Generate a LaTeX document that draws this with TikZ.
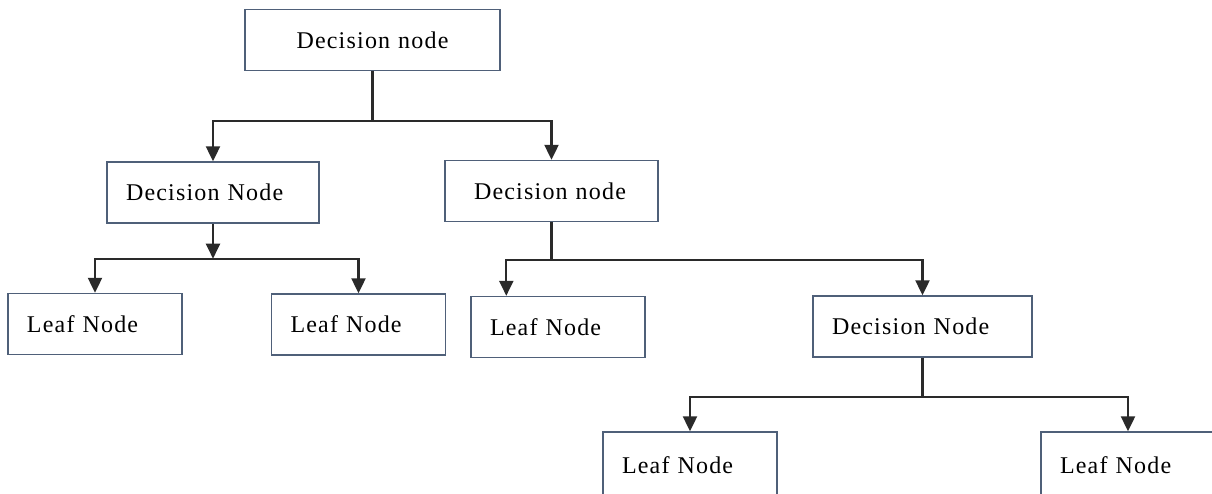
\documentclass[tikz,border=0pt]{standalone}
\usepackage{fontspec}
\setmainfont{Liberation Serif}[LetterSpace=5]
\usetikzlibrary{arrows.meta}
\definecolor{boxline}{HTML}{4F6079}
\definecolor{wire}{HTML}{2A2A2A}
\begin{document}
\begin{tikzpicture}[x=1pt,y=-1pt,
  box/.style={draw=boxline, line width=1.4pt, inner xsep=19pt, inner ysep=0pt,
    minimum height=61pt, text width=#1, align=left,
    font=\fontsize{24}{28}\selectfont},
  box/.default=136pt,
  link/.style={draw=wire, line width=2.2pt},
  arr/.style={link, -{Triangle[length=15pt,width=14pt]}}]
  \clip (0,0) rectangle (1212,494);
  \node[box=217pt, align=center] (root) at (372.5,40) {Decision node};
  \node[box=174pt] (dnleft) at (213,192.5) {Decision Node};
  \node[box=175pt] (dnright) at (551.5,191) {\hspace*{10pt}Decision node};
  \node[box] (leafa) at (95,324) {Leaf Node};
  \node[box] (leafb) at (358.5,324.5) {Leaf Node};
  \node[box] (leafc) at (558,327) {Leaf Node};
  \node[box=181pt] (dnlow) at (922.5,326.5) {Decision Node};
  \node[box, minimum height=66pt] (leafd) at (690,465) {Leaf Node};
  \node[box, minimum height=66pt] (leafe) at (1128,465) {Leaf Node};

  \draw[link] (root.south) -- ++(0,50) coordinate (jroot);
  \draw[arr] (jroot) -| (dnleft.north);
  \draw[arr] (jroot) -| (dnright.north);

  \draw[arr] (dnleft.south) -- ++(0,35) coordinate (jleft);
  \draw[arr] (jleft) -| (leafa.north);
  \draw[arr] (jleft) -| (leafb.north);

  \draw[link] (dnright.south) -- ++(0,38) coordinate (jright);
  \draw[arr] (jright) -| ([xshift=36pt]leafc.north west);
  \draw[arr] (jright) -| (dnlow.north);

  \draw[link] (dnlow.south) -- ++(0,39) coordinate (jlow);
  \draw[arr] (jlow) -| (leafd.north);
  \draw[arr] (jlow) -| (leafe.north);
\end{tikzpicture}
\end{document}
